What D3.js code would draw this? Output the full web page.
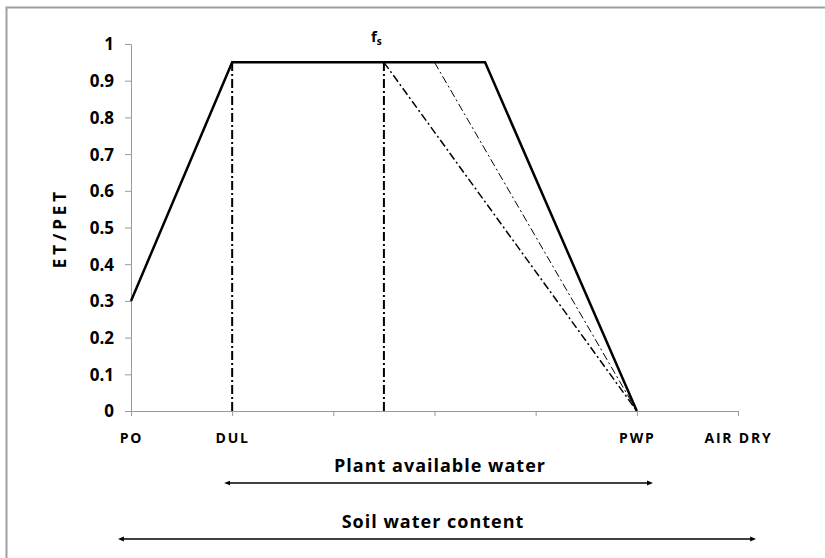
<!DOCTYPE html>
<html lang="en">
<head>
    <meta charset="UTF-8">
    <title>ET/PET vs soil water</title>
    <script src="https://d3js.org/d3.v7.min.js"></script>
    <style>
        body { margin: 0; background: #fff; }
        text { font-family: "Open Sans", "Liberation Sans", sans-serif; font-weight: bold; fill: #000; }
    </style>
</head>
<body>
<script>
    const width = 825
    const height = 558

    // x positions are category slots 0..6
    const categories = ["PO", "DUL", "", "", "", "PWP", "AIR DRY"]
    const yTicks = [0, 0.1, 0.2, 0.3, 0.4, 0.5, 0.6, 0.7, 0.8, 0.9, 1]

    // main response curve
    const mainX = [0, 1, 3.5, 5]
    const mainY = [0.3, 0.95, 0.95, 0]
    // dash-dot verticals (DUL and fs)
    const vertX = [1, 2.5]
    const vertTop = 0.95
    // alternative declines
    const declineA = [[2.5, 0.95], [5, 0]]
    const declineB = [[3, 0.95], [5, 0]]

    let svg = d3.select("body").append("svg")
        .attr("width", width).attr("height", height)

    // chart border (cut off at right / bottom)
    svg.append("rect")
        .attr("x", 6.5).attr("y", 7.5)
        .attr("width", 900).attr("height", 700)
        .attr("fill", "none").attr("stroke", "#a0a0a0").attr("stroke-width", 2)

    const x = d3.scaleLinear().domain([0, 6]).range([131, 738])
    const y = d3.scaleLinear().domain([0, 1]).range([411, 44])

    // y axis
    let yAxis = svg.append("g")
        .attr("transform", `translate(${x(0)},0)`)
        .call(d3.axisLeft(y).tickValues(yTicks).tickSize(6).tickPadding(11)
            .tickFormat(d => d === 0 || d === 1 ? d3.format("d")(d) : d3.format(".1f")(d)))
    yAxis.attr("font-size", 17)
    yAxis.selectAll("text").attr("dy", "0.35em")
    yAxis.selectAll("line").attr("stroke", "#999")
    yAxis.select(".domain").attr("stroke", "#999")

    // x axis
    let xAxis = svg.append("g")
        .attr("transform", `translate(0,${y(0)})`)
        .call(d3.axisBottom(x).tickValues(d3.range(categories.length)).tickSize(5)
            .tickPadding(17).tickFormat(i => categories[i]))
    xAxis.attr("font-size", 14)
    xAxis.selectAll("text").attr("letter-spacing", 1.8)
    xAxis.selectAll("line").attr("stroke", "#999")
    xAxis.select(".domain").attr("stroke", "#999")

    svg.append("text")
        .attr("transform", `translate(66,228) rotate(-90)`)
        .attr("text-anchor", "middle")
        .attr("font-size", 17)
        .attr("letter-spacing", 4)
        .text("ET/PET")

    const line = d3.line().x(d => x(d[0])).y(d => y(d[1]))

    // verticals
    svg.selectAll(".vert")
        .data(vertX)
        .enter()
        .append("line")
        .attr("x1", d => x(d)).attr("x2", d => x(d))
        .attr("y1", y(0)).attr("y2", y(vertTop))
        .attr("stroke", "#000").attr("stroke-width", 2)
        .attr("stroke-dasharray", "9,3,2,3")

    svg.append("path")
        .attr("d", line(declineA))
        .attr("fill", "none").attr("stroke", "#000").attr("stroke-width", 1.5)
        .attr("stroke-dasharray", "8,3,2,3")

    svg.append("path")
        .attr("d", line(declineB))
        .attr("fill", "none").attr("stroke", "#000").attr("stroke-width", 1)
        .attr("stroke-dasharray", "8,3,2,3")

    svg.append("path")
        .attr("d", line(mainX.map((d, i) => [d, mainY[i]])))
        .attr("fill", "none").attr("stroke", "#000").attr("stroke-width", 2.5)
        .attr("stroke-linejoin", "miter")

    // fs label
    let fs = svg.append("text")
        .attr("x", x(2.5) - 13).attr("y", 42)
        .attr("font-size", 15)
    fs.append("tspan").text("f")
    fs.append("tspan").attr("font-size", 10).attr("dy", 3).text("s")

    // arrows
    svg.append("defs").selectAll("marker")
        .data(["start", "end"])
        .enter()
        .append("marker")
        .attr("id", d => "arr-" + d)
        .attr("viewBox", "0 0 10 10")
        .attr("refX", 5).attr("refY", 5)
        .attr("markerWidth", 6).attr("markerHeight", 6)
        .attr("markerUnits", "userSpaceOnUse")
        .attr("orient", d => d === "start" ? "auto-start-reverse" : "auto")
        .append("path")
        .attr("d", "M0,1 L10,5 L0,9 Z")
        .attr("fill", "#000")

    const spans = [
        {label: "Plant available water", from: 0.95, to: 5.13, yPix: 483, textY: 472, cx: 440},
        {label: "Soil water content", from: -0.1, to: 6.15, yPix: 539, textY: 528, cx: 433}
    ]

    svg.selectAll(".span-line")
        .data(spans)
        .enter()
        .append("line")
        .attr("x1", d => x(d.from)).attr("x2", d => x(d.to))
        .attr("y1", d => d.yPix).attr("y2", d => d.yPix)
        .attr("stroke", "#000").attr("stroke-width", 1.5)
        .attr("marker-start", "url(#arr-start)")
        .attr("marker-end", "url(#arr-end)")

    svg.selectAll(".span-text")
        .data(spans)
        .enter()
        .append("text")
        .attr("x", d => d.cx).attr("y", d => d.textY)
        .attr("text-anchor", "middle")
        .attr("font-size", 18)
        .attr("letter-spacing", 1)
        .text(d => d.label)
</script>
</body>
</html>
